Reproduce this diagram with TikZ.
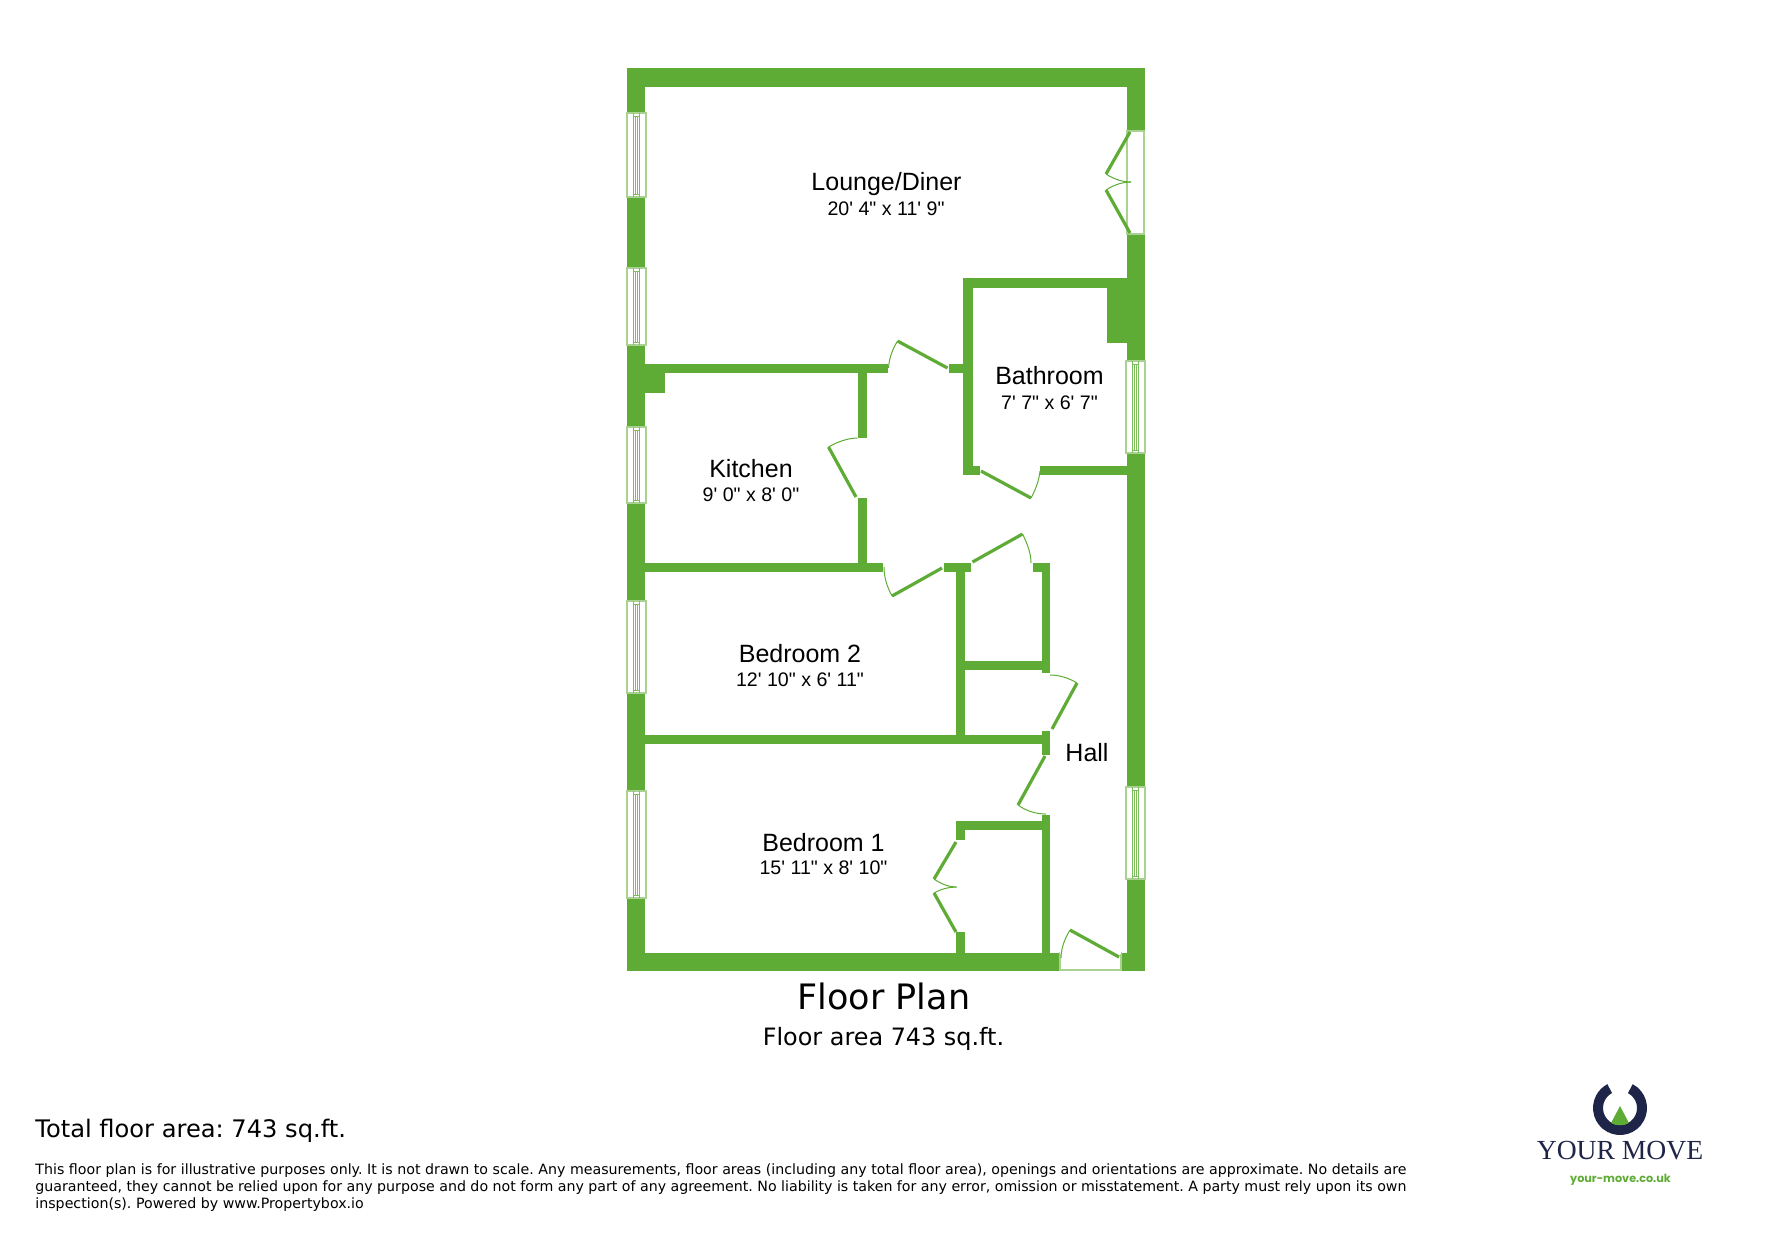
\documentclass[tikz,border=0pt]{standalone}
\usepackage{fontspec}
\setmainfont{Liberation Sans}
\newfontfamily\dv{DejaVu Sans}
\newfontfamily\serifl{Liberation Serif}
\newfontfamily\pop{Poppins}
\font\dimfont="Liberation Sans" at 9.8pt
\definecolor{wall}{HTML}{5EAC35}
\definecolor{winl}{HTML}{A8D192}
\definecolor{navy}{HTML}{1F2548}
\tikzset{
 wallf/.style={fill=wall,draw=none},
 leaf/.style={draw=wall,line width=1.6pt},
 swing/.style={draw=wall,line width=0.5pt},
 room/.style={inner sep=0,font=\fontsize{12.5}{14}\selectfont,anchor=center},
 dim/.style={inner sep=0,font=\dimfont,anchor=center},
 lab/.style={inner sep=0,anchor=west,font=\dv\fontsize{12.07}{13}\selectfont},
 small/.style={inner sep=0,anchor=west,font=\dv\fontsize{7.1}{9}\selectfont},
 win/.pic={
  \path[fill=white,draw=winl,line width=.6pt] (0,0) rectangle (19,\winh);
  \draw[wall!80,line width=.42pt] (6.5,0) -- (6.5,\winh) (12.5,0) -- (12.5,\winh)
      (6.5,3) -- (12.5,3) (6.5,\winh-3) -- (12.5,\winh-3);
  \draw[wall!80,line width=.42pt] (8.7,3) -- (8.7,\winh-3) (10.4,3) -- (10.4,\winh-3);
 }
}
\begin{document}
\frenchspacing
\begin{tikzpicture}[x=0.5pt,y=-0.5pt]
\useasboundingbox (0,0) rectangle (1771,1239);
% outer walls
\path[wallf] (627,68) rectangle (1145,87);
\path[wallf] (627,68) rectangle (645,971);
\path[wallf] (1127,68) rectangle (1145,971);
\path[wallf] (627,953) rectangle (1145,971);
% bathroom
\path[wallf] (963,278) rectangle (1127,288);
\path[wallf] (963,278) rectangle (972.5,475);
\path[wallf] (963,466) rectangle (980,475);
\path[wallf] (1040,466) rectangle (1127,475);
\path[wallf] (1107,288) rectangle (1127,343);
% kitchen
\path[wallf] (645,364) rectangle (888,373);
\path[wallf] (948.5,364) rectangle (963,373);
\path[wallf] (645,373) rectangle (665,393);
\path[wallf] (858,373) rectangle (867,438);
\path[wallf] (858,498) rectangle (867,563);
\path[wallf] (645,563) rectangle (883,572);
% cupboards
\path[wallf] (944,563) rectangle (971,572);
\path[wallf] (1032.5,563) rectangle (1050,572);
\path[wallf] (1041.5,572) rectangle (1050,673);
\path[wallf] (956,572) rectangle (964.6,735);
\path[wallf] (964,661) rectangle (1041.5,670);
\path[wallf] (645,735) rectangle (1041.5,744);
\path[wallf] (1041.5,731) rectangle (1050,755);
\path[wallf] (1041.5,815) rectangle (1050,953);
\path[wallf] (956,821) rectangle (1041.5,830);
\path[wallf] (956,821) rectangle (964.6,840);
\path[wallf] (956,932) rectangle (964.6,953);
% left windows
\def\winh{84} \pic at (627,113) {win};
\def\winh{77} \pic at (627,268) {win};
\def\winh{76} \pic at (627,427) {win};
\def\winh{92} \pic at (627,601) {win};
\def\winh{107} \pic at (627,791) {win};
% right windows
\def\winh{92} \pic at (1126,361) {win};
\def\winh{92} \pic at (1126,787) {win};
% french doors
\path[fill=white,draw=winl,line width=.6pt] (1127,131) rectangle (1144,234);
\draw[leaf] (1130,132) -- (1106,174);
\draw[leaf] (1130,233) -- (1106,190);
\draw[swing] (1106,174) .. controls (1115,180) and (1124,182) .. (1131,182);
\draw[swing] (1106,190) .. controls (1115,184) and (1124,182) .. (1131,182);
% lounge door
\draw[leaf] (947.5,368) -- (897.5,341);
\draw[swing] (897.5,341) .. controls (892,350) and (889,359) .. (888.5,368);
% bathroom door
\draw[leaf] (981,471) -- (1031,498);
\draw[swing] (1031,498) .. controls (1036,489) and (1039,480) .. (1040,471);
% kitchen door
\draw[leaf] (856,497) -- (828.5,447);
\draw[swing] (828.5,447) .. controls (837,442) and (848,438) .. (857.5,438);
% bedroom 2 door
\draw[leaf] (942,568) -- (892,596);
\draw[swing] (892,596) .. controls (887,587) and (884,577) .. (884,567);
% cupboard door top
\draw[leaf] (972.5,562) -- (1022.5,534);
\draw[swing] (1022.5,534) .. controls (1027,543) and (1031,553) .. (1031,563);
% cupboard door side
\draw[leaf] (1052,729) -- (1077,683);
\draw[swing] (1077,683) .. controls (1069,678) and (1059,675) .. (1050,675);
% bedroom 1 door
\draw[leaf] (1045,756) -- (1018,805);
\draw[swing] (1018,805) .. controls (1026,811) and (1036,814) .. (1046,814);
% wardrobe doors
\draw[leaf] (956,842) -- (934,879);
\draw[leaf] (956,932) -- (934,893);
\draw[swing] (934,879) .. controls (941,884) and (949,887) .. (956.5,887);
\draw[swing] (934,893) .. controls (941,889) and (949,887) .. (956.5,887);
% entrance
\path[fill=white,draw=winl,line width=.6pt] (1060,953) rectangle (1121,970);
\path[fill=white] (1060.3,950) rectangle (1120.7,954);
\draw[leaf] (1119,957) -- (1070,930);
\draw[swing] (1070,930) .. controls (1065,938) and (1061,948) .. (1061,958);
% labels
\node[room] (lounge) at (886.5,184) {Lounge/Diner};
\node[dim] (loungeD) at (886,209) {20' 4" x 11' 9"};
\node[room] (bath) at (1049.5,376) {Bathroom};
\node[dim] (bathD) at (1049.5,403) {7' 7" x 6' 7"};
\node[room] (kitchen) at (751,469) {Kitchen};
\node[dim] (kitchenD) at (751,495) {9' 0" x 8' 0"};
\node[room] (bed2) at (800,654) {Bedroom 2};
\node[dim] (bed2D) at (800,680) {12' 10" x 6' 11"};
\node[room] (bed1) at (823.5,843) {Bedroom 1};
\node[dim] (bed1D) at (823.5,868) {15' 11" x 8' 10"};
\node[room] (hall) at (1087,752.5) {Hall};
\node[inner sep=0,font=\dv\fontsize{17.5}{20}\selectfont] (fp) at (884,996) {Floor Plan};
\node[inner sep=0,font=\dv\fontsize{11.95}{13}\selectfont] (fa) at (883.5,1039) {Floor area 743 sq.ft.};
\node[lab] (total) at (35,1131) {Total floor area: 743 sq.ft.};
\node[small] (l1) at (35,1171) {\makebox[685.5pt][s]{This floor plan is for illustrative purposes only. It is not drawn to scale. Any measurements, floor areas (including any total floor area), openings and orientations are approximate. No details are}};
\node[small] (l2) at (35,1188) {\makebox[685.5pt][s]{guaranteed, they cannot be relied upon for any purpose and do not form any part of any agreement. No liability is taken for any error, omission or misstatement. A party must rely upon its own}};
\node[small] (l3) at (35,1205) {inspection(s). Powered by www.Propertybox.io};
% logo
\path[fill=navy] (1620,1108) ++(-62:27) arc[start angle=-62,end angle=242,radius=27] -- ++(62:10) arc[start angle=242,end angle=-62,radius=17] -- cycle;
\path[fill=wall] (1620,1106) -- (1611,1123) .. controls (1616,1126) and (1624,1126) .. (1629,1123) -- cycle;
\node[inner sep=0,text=navy,font=\serifl\fontsize{13.8}{16}\selectfont] (ym) at (1620,1151) {YOUR MOVE};
\node[inner sep=0,text=wall,font=\pop\bfseries\fontsize{5.6}{7}\selectfont] (url) at (1620.5,1180) {your-move.co.uk};
\end{tikzpicture}
\end{document}
